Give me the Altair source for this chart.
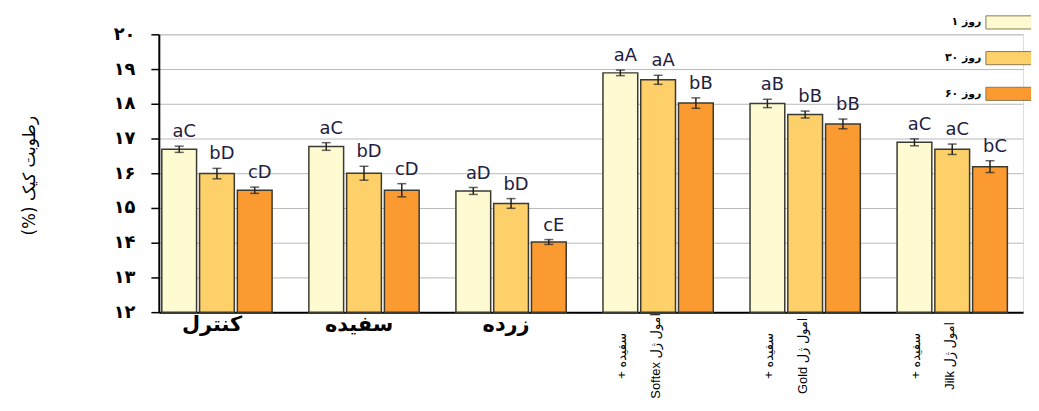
import altair as alt
import pandas as pd

# ---- data ----
group_ids = ["g1", "g2", "g3", "g4", "g5", "g6"]
flat_labels = ["کنترل", "سفیده", "زرده"]
rotated_labels = [
    ["+ سفیده", "Softex امول ژل"],
    ["+ سفیده", "Gold امول ژل"],
    ["+ سفیده", "Jilk امول ژل"],
]
series = ["روز ۱", "روز ۳۰", "روز ۶۰"]
series_colors = ["#FEFAD2", "#FDD06A", "#FA9A30"]

day1 = [16.69, 16.77, 15.49, 18.89, 18.01, 16.89]
day30 = [15.99, 16.00, 15.13, 18.69, 17.69, 16.69]
day60 = [15.51, 15.51, 14.02, 18.02, 17.42, 16.19]
err1 = [0.09, 0.11, 0.10, 0.08, 0.12, 0.10]
err30 = [0.15, 0.20, 0.14, 0.13, 0.10, 0.15]
err60 = [0.09, 0.19, 0.07, 0.15, 0.14, 0.17]
let1 = ["aC", "aC", "aD", "aA", "aB", "aC"]
let30 = ["bD", "bD", "bD", "aA", "bB", "aC"]
let60 = ["cD", "cD", "cE", "bB", "bB", "bC"]

y_min, y_max = 12, 20
y_ticks = [12, 13, 14, 15, 16, 17, 18, 19, 20]
y_tick_labels = ["۱۲", "۱۳", "۱۴", "۱۵", "۱۶", "۱۷", "۱۸", "۱۹", "۲۰"]
y_title = "رطوبت کیک (%)\u200f"

# ---- tables ----
rows = []
for s, vals, errs, lets in zip(series, [day1, day30, day60], [err1, err30, err60], [let1, let30, let60]):
    for g, v, e, l in zip(group_ids, vals, errs, lets):
        rows.append({"group": g, "series": s, "value": v, "lo": v - e, "hi": v + e, "letter": l})
df = pd.DataFrame(rows)

df_flat = pd.DataFrame({"group": group_ids[:3], "label": flat_labels})
df_rot = pd.DataFrame({"group": group_ids[3:], "label": rotated_labels})

x_scale = alt.Scale(domain=group_ids, paddingInner=0.25, paddingOuter=0.0635, align=0.16)
x_enc = alt.X("group:N", scale=x_scale, sort=group_ids,
              axis=alt.Axis(labels=False, ticks=False, title=None, domainColor="black", domainWidth=2))
xo_enc = alt.XOffset("series:N", sort=series, scale=alt.Scale(domain=series, paddingInner=0.08, paddingOuter=0))
y_scale = alt.Scale(domain=[y_min, y_max], nice=False, zero=False)

label_expr = "[" + ",".join("'" + t + "'" for t in y_tick_labels) + "][datum.value - 12]"
y_axis = alt.Axis(values=y_ticks, labelExpr=label_expr, title=y_title,
                  labelFont="DejaVu Sans", labelFontWeight="bold", labelFontSize=18,
                  labelColor="black", labelPadding=16, labelOverlap=False,
                  tickSize=8, tickColor="black", tickWidth=1.5,
                  domainColor="black", domainWidth=2,
                  grid=True, gridColor="#b8b8b8", gridWidth=1,
                  titleFont="DejaVu Sans", titleFontSize=17, titleFontWeight="normal",
                  titleColor="black", titleAngle=270, titleX=-130, titleY=142,
                  titleAlign="center", titleBaseline="middle")

base = alt.Chart(df).encode(x=x_enc, xOffset=xo_enc)

bars = base.mark_bar(stroke="#3b3a30", strokeWidth=1.5).encode(
    y=alt.Y("value:Q", scale=y_scale, axis=y_axis),
    y2=alt.datum(y_min),
    color=alt.Color("series:N", sort=series,
                    scale=alt.Scale(domain=series, range=series_colors),
                    legend=alt.Legend(title=None, orient="none", legendX=846, legendY=-26,
                                      symbolType="M-2,-0.5L2,-0.5L2,0.5L-2,0.5Z",
                                      symbolSize=700, symbolStrokeColor="#8a7a50",
                                      symbolStrokeWidth=1, symbolOpacity=1,
                                      labelAlign="right", labelOffset={"expr": "-45"},
                                      labelFont="DejaVu Sans", labelFontWeight="bold",
                                      labelFontSize=11, labelColor="black",
                                      rowPadding=13, padding=0)),
)

rules = base.mark_rule(color="#222222", strokeWidth=1.5).encode(
    y=alt.Y("lo:Q", scale=y_scale, axis=y_axis), y2="hi:Q")
cap_lo = base.mark_tick(color="#222222", thickness=1.5, size=9).encode(
    y=alt.Y("lo:Q", scale=y_scale, axis=y_axis))
cap_hi = base.mark_tick(color="#222222", thickness=1.5, size=9).encode(
    y=alt.Y("hi:Q", scale=y_scale, axis=y_axis))

letters = base.mark_text(baseline="bottom", dy=-5, dx=5, fontSize=18, font="DejaVu Sans",
                         color="#1f2040").encode(
    y=alt.Y("hi:Q", scale=y_scale, axis=y_axis), text="letter:N")

flat = alt.Chart(df_flat).mark_text(font="DejaVu Sans", fontWeight="bold", fontSize=21,
                                    baseline="middle", align="center", dx=-5, color="black").encode(
    x=alt.X("group:N", scale=x_scale, sort=group_ids), y=alt.value(293), text="label:N")

rot = alt.Chart(df_rot).mark_text(font="Liberation Sans, DejaVu Sans", fontSize=13, angle=270,
                                  baseline="middle", align="center", lineHeight=34, dy=-36,
                                  color="black").encode(
    x=alt.X("group:N", scale=x_scale, sort=group_ids), y=alt.value(324), text="label")

chart = alt.layer(bars, rules, cap_lo, cap_hi, letters, flat, rot).properties(
    width=871, height=280,
    autosize=alt.AutoSizeParams(type="none"),
    padding={"left": 152, "top": 25, "right": 8, "bottom": 86},
).configure_view(stroke=None).configure(background="white")

chart.save("out.html", embed_options={"renderer": "svg", "actions": False})
